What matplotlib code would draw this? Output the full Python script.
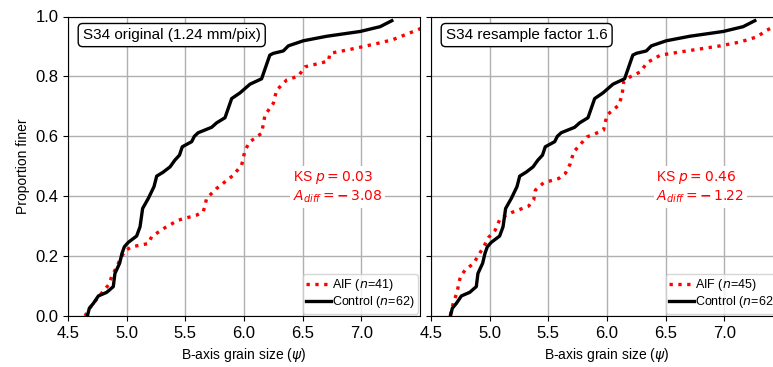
import numpy as np
import matplotlib.pyplot as plt

plt.rcParams['font.family'] = ['Liberation Sans', 'DejaVu Sans']

# Control sample (same in both panels): sorted grain size vs proportion finer
ctrl_x = [4.665, 4.682, 4.716, 4.759, 4.83, 4.886, 4.90, 4.94, 4.96, 4.98, 5.014,
          5.085, 5.114, 5.136, 5.185, 5.233, 5.256, 5.31, 5.37, 5.41, 5.45, 5.474,
          5.554, 5.577, 5.61, 5.724, 5.767, 5.838, 5.895, 5.966, 6.051, 6.15, 6.22,
          6.25, 6.335, 6.378, 6.506, 6.705, 6.99, 7.16, 7.26]
ctrl_y = [0.0, 0.026, 0.042, 0.067, 0.079, 0.098, 0.142, 0.176, 0.209, 0.231, 0.246,
          0.267, 0.298, 0.359, 0.393, 0.432, 0.467, 0.48, 0.498, 0.52, 0.537, 0.565,
          0.582, 0.60, 0.612, 0.63, 0.645, 0.662, 0.726, 0.745, 0.774, 0.792, 0.871,
          0.877, 0.885, 0.902, 0.919, 0.934, 0.95, 0.966, 0.986]

# AIF, original resolution (n=41)
aif_orig_x = [4.645, 4.673, 4.716, 4.773, 4.844, 4.872, 4.90, 4.929, 4.957, 4.986,
              5.043, 5.185, 5.213, 5.327, 5.44, 5.597, 5.653, 5.682, 5.767, 5.909,
              5.98, 6.009, 6.051, 6.15, 6.179, 6.25, 6.278, 6.364, 6.463, 6.52, 6.719,
              6.733, 6.903, 7.16, 7.27, 7.47, 7.52]
aif_orig_y = [0.0, 0.02, 0.042, 0.07, 0.103, 0.131, 0.153, 0.176, 0.198, 0.218,
              0.231, 0.242, 0.265, 0.295, 0.32, 0.337, 0.348, 0.393, 0.426, 0.47,
              0.504, 0.554, 0.582, 0.61, 0.671, 0.71, 0.754, 0.788, 0.801, 0.832, 0.851,
              0.877, 0.89, 0.912, 0.923, 0.954, 0.962]

# AIF, resample factor 1.6 (n=45)
aif_res_x = [4.665, 4.693, 4.72, 4.75, 4.79, 4.864, 4.906, 4.949, 4.99, 5.048, 5.09,
             5.19, 5.332, 5.375, 5.389, 5.46, 5.588, 5.645, 5.688, 5.716, 5.83, 5.97,
             6.0, 6.1, 6.128, 6.142, 6.199, 6.284, 6.327, 6.355, 6.455, 6.68, 6.966,
             7.136, 7.278, 7.36, 7.42]
aif_res_y = [0.003, 0.048, 0.076, 0.131, 0.153, 0.176, 0.204, 0.231, 0.262, 0.287, 0.326,
             0.346, 0.367, 0.387, 0.42, 0.445, 0.459, 0.476, 0.509, 0.548, 0.598, 0.62,
             0.671, 0.704, 0.737, 0.782, 0.799, 0.815, 0.838, 0.849, 0.871, 0.885, 0.902,
             0.915, 0.932, 0.954, 0.965]

panels = [
    ('S34 original (1.24 mm/pix)', aif_orig_x, aif_orig_y, 41, 'KS $p = 0.03$\n$A_{diff} = \\mathbf{-}\\,3.08$'),
    ('S34 resample factor 1.6', aif_res_x, aif_res_y, 45, 'KS $p = 0.46$\n$A_{diff} = \\mathbf{-}\\,1.22$'),
]

fig = plt.figure(figsize=(7.73, 3.67), dpi=100)
lefts = [68 / 773, 431 / 773]

for i, (title, ax_x, ax_y, n, ks) in enumerate(panels):
    ax = fig.add_axes([lefts[i], 51 / 367, 352 / 773, 299.5 / 367])
    ax.grid(True, color='#b0b0b0', linewidth=1)
    ax.set_axisbelow(True)
    ax.plot(ax_x, ax_y, color='red', linestyle=':', linewidth=2.4,
            label='AIF ($n$=%d)' % n)
    ax.plot(ctrl_x, ctrl_y, color='black', linewidth=2.4,
            label='Control ($n$=62)')
    ax.set_xlim(4.5, 7.5)
    ax.set_ylim(0, 1)
    ax.set_xticks([4.5, 5.0, 5.5, 6.0, 6.5, 7.0])
    ax.set_yticks([0, 0.2, 0.4, 0.6, 0.8, 1.0])
    ax.tick_params(labelsize=12)
    ax.set_xlabel('B-axis grain size ($\\psi$)', fontsize=10)
    if i == 0:
        ax.set_ylabel('Proportion finer', fontsize=10)
    else:
        ax.set_yticklabels([])

    ax.text(0.042, 0.938, title, transform=ax.transAxes, fontsize=11, va='center',
            bbox=dict(boxstyle='round,pad=0.3', fc='white', ec='black'))
    ax.text(0.765, 0.43, ks, transform=ax.transAxes, fontsize=10, color='red',
            ha='center', va='center', multialignment='left',
            bbox=dict(fc='white', ec='none', pad=2))
    ax.legend(loc='lower right', fontsize=9, borderaxespad=0.2, borderpad=0.25,
              labelspacing=0.1, handletextpad=0.1, handlelength=2.0)

fig.savefig('out.png', dpi=100)
